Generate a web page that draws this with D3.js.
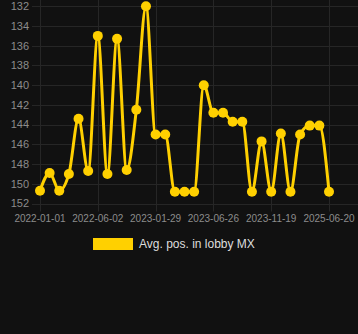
<!DOCTYPE html>
<html>
<head>
<meta charset="utf-8">
<script src="https://cdn.jsdelivr.net/npm/d3@7"></script>
<style>
  body { margin: 0; background: #111111; }
  svg { display: block; font-family: "Liberation Sans", Arial, sans-serif; }
</style>
</head>
<body>
<div id="chart"></div>
<script>
// dates (only every 6th label shown on the axis)
const dates = [
    "2022-01-01", "2022-01-24", "2022-02-16", "2022-03-11", "2022-04-03", "2022-05-08",
    "2022-06-02", "2022-07-10", "2022-08-21", "2022-09-30", "2022-11-12", "2022-12-20",
    "2023-01-29", "2023-02-18", "2023-03-10", "2023-04-02", "2023-04-25", "2023-05-20",
    "2023-06-26", "2023-07-18", "2023-08-09", "2023-09-02", "2023-09-28", "2023-10-24",
    "2023-11-19", "2024-01-15", "2024-04-02", "2024-07-20", "2024-11-08", "2025-02-25",
    "2025-06-20"
];
const avgPos = [
    150.7, 148.9, 150.7, 149.0, 143.4, 148.7, 135.0, 149.0, 135.3, 148.6,
    142.5, 132.0, 145.0, 145.0, 150.8, 150.8, 150.8, 140.0, 142.8, 142.8,
    143.7, 143.7, 150.8, 145.7, 150.8, 144.9, 150.8, 145.0, 144.1, 144.1,
    150.8
];
const yTicks = [132, 134, 136, 138, 140, 142, 144, 146, 148, 150, 152];
const seriesName = "Avg. pos. in lobby MX";

const width = 358, height = 334;
const margin = {top: 6.3, left: 40, right: 29, bottom: 130.5};
const yellow = "#ffd000";

const svg = d3.select("#chart")
    .append("svg")
    .attr("width", width)
    .attr("height", height)
    .style("background", "#111111");

const x = d3.scalePoint()
    .domain(dates)
    .range([margin.left, width - margin.right]);

const y = d3.scaleLinear()
    .domain([132, 152])
    .range([margin.top, height - margin.bottom]);

// horizontal grid + y labels
svg.append("g")
    .selectAll("line")
    .data(yTicks)
    .join("line")
    .attr("x1", margin.left - 8)
    .attr("x2", width)
    .attr("y1", d => Math.round(y(d)) + 0.5)
    .attr("y2", d => Math.round(y(d)) + 0.5)
    .attr("stroke", "#262626");

svg.append("g")
    .selectAll("text")
    .data(yTicks)
    .join("text")
    .attr("x", 29)
    .attr("y", d => y(d))
    .attr("dy", "0.35em")
    .attr("text-anchor", "end")
    .attr("fill", "#8c8c8c")
    .style("font-size", "11px")
    .text(d => d);

// vertical grid + x labels, every 6th
const shown = dates.filter((d, i) => i % 6 === 0);
svg.append("g")
    .selectAll("line")
    .data(shown)
    .join("line")
    .attr("x1", d => Math.round(x(d)) + 0.5)
    .attr("x2", d => Math.round(x(d)) + 0.5)
    .attr("y1", 0)
    .attr("y2", y(152) + 8)
    .attr("stroke", "#262626");

svg.append("g")
    .selectAll("text")
    .data(shown)
    .join("text")
    .attr("x", d => x(d))
    .attr("y", 222)
    .attr("text-anchor", "middle")
    .attr("fill", "#8c8c8c")
    .style("font-size", "10px")
    .text(d => d);

// line
const line = d3.line()
    .x((d, i) => x(dates[i]))
    .y(d => y(d))
    .curve(d3.curveMonotoneX);

svg.append("path")
    .datum(avgPos)
    .attr("fill", "none")
    .attr("stroke", yellow)
    .attr("stroke-width", 3)
    .attr("d", line);

svg.append("g")
    .selectAll("circle")
    .data(avgPos)
    .join("circle")
    .attr("cx", (d, i) => x(dates[i]))
    .attr("cy", d => y(d))
    .attr("r", 5)
    .attr("fill", yellow);

// legend
svg.append("rect")
    .attr("x", 93)
    .attr("y", 238)
    .attr("width", 40)
    .attr("height", 12)
    .attr("fill", yellow);
svg.append("text")
    .attr("x", 139)
    .attr("y", 244)
    .attr("dy", "0.35em")
    .attr("fill", "#dddddd")
    .style("font-size", "12px")
    .text(seriesName);
</script>
</body>
</html>
